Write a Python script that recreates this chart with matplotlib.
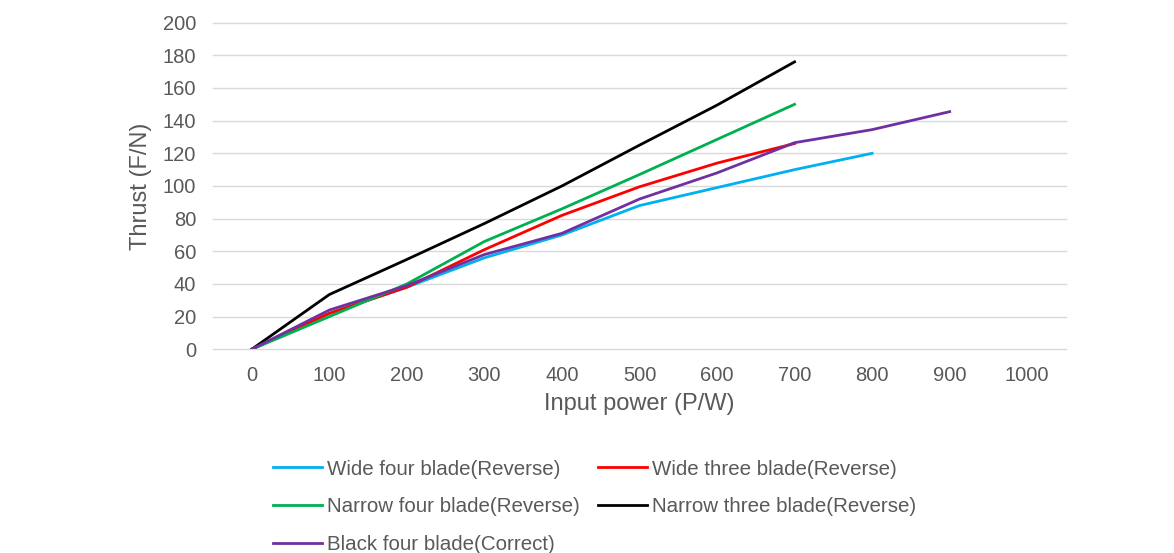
import numpy as np
from matplotlib import pyplot as plt

plt.rcParams['font.family'] = ['Liberation Sans', 'DejaVu Sans']

# categorias del eje x (potencia de entrada, W)
power = [0, 100, 200, 300, 400, 500, 600, 700, 800, 900, 1000]

# empuje (N) de cada helice
wide_four = [0, 22, 38, 56, 70, 88, 99, 110, 120]
wide_three = [0, 22, 38, 61, 82, 99.5, 114, 126]
narrow_four = [0, 20, 40, 66, 86, 107, 128.5, 150]
narrow_three = [0, 33.5, 55, 77, 100, 125, 149.5, 176]
black_four = [0, 24, 39, 58, 71, 92, 108, 126.5, 134.5, 145.5]

fig = plt.figure(figsize=(11.74, 5.53), dpi=100)
ax = fig.add_axes([0.1814, 0.3684, 0.7266, 0.5906])

l1, = ax.plot(power[:len(wide_four)], wide_four, color='#00B0F0', lw=2, label='Wide four blade(Reverse)')
l2, = ax.plot(power[:len(wide_three)], wide_three, color='#FF0000', lw=2, label='Wide three blade(Reverse)')
l3, = ax.plot(power[:len(narrow_four)], narrow_four, color='#00B050', lw=2, label='Narrow four blade(Reverse)')
l4, = ax.plot(power[:len(narrow_three)], narrow_three, color='#000000', lw=2, label='Narrow three blade(Reverse)')
l5, = ax.plot(power[:len(black_four)], black_four, color='#7030A0', lw=2, label='Black four blade(Correct)')

ax.set_xlim(-50, 1050)
ax.set_ylim(0, 200)
ax.set_xticks(power)
ax.set_yticks(np.arange(0, 201, 20))
ax.grid(axis='y', color='#D9D9D9', lw=1.0)
for g in ax.get_ygridlines():
    g.set_clip_on(False)
ax.set_axisbelow(True)
for s in ax.spines.values():
    s.set_visible(False)
ax.tick_params(length=0, labelsize=14.5, labelcolor='#595959')
ax.tick_params(axis='x', pad=12)
ax.tick_params(axis='y', pad=12)

ax.set_xlabel('Input power (P/W)', fontsize=17, color='#595959', labelpad=6)
ax.set_ylabel('Thrust (F/N)', fontsize=17, color='#595959', labelpad=8)

# orden por columnas para que quede por filas como en el original
handles = [l1, l3, l5, l2, l4]
leg = fig.legend(handles, [h.get_label() for h in handles], loc='upper left',
                 bbox_to_anchor=(0.2325, 0.169), ncol=2, frameon=False,
                 fontsize=14.8, handlelength=2.4, handletextpad=0.25, columnspacing=0.85,
                 labelspacing=0.92, borderpad=0, borderaxespad=0)
for t in leg.get_texts():
    t.set_color('#595959')

fig.savefig('out.png', dpi=100)
